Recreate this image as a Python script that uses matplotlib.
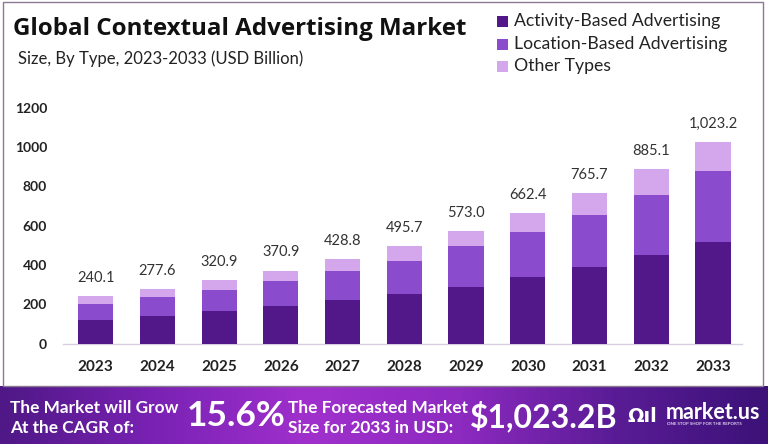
import matplotlib
matplotlib.use("Agg")
import matplotlib.pyplot as plt
import numpy as np
from matplotlib.colors import LinearSegmentedColormap
from matplotlib.patches import Rectangle

years = ["2023", "2024", "2025", "2026", "2027", "2028", "2029", "2030", "2031", "2032", "2033"]
activity = [118, 139, 164, 189, 220, 254, 289, 338, 389, 448, 518]
location = [85, 98, 110, 131, 147, 167, 205, 229, 266, 308, 357]
other = [37.1, 40.6, 46.9, 50.9, 61.8, 74.7, 79.0, 95.4, 110.7, 129.1, 148.2]
totals = [240.1, 277.6, 320.9, 370.9, 428.8, 495.7, 573.0, 662.4, 765.7, 885.1, 1023.2]
total_labels = ["240.1", "277.6", "320.9", "370.9", "428.8", "495.7", "573.0", "662.4", "765.7", "885.1", "1,023.2"]
series_names = ["Activity-Based Advertising", "Location-Based Advertising", "Other Types"]
colors = ["#521889", "#8a4ccc", "#d4a6ec"]
yticks = [0, 200, 400, 600, 800, 1000, 1200]

W, H = 768, 444
fig = plt.figure(figsize=(W / 100, H / 100), dpi=100)
fig.patch.set_facecolor("white")

def fx(px):
    return px / W

def fy(py):
    return 1 - py / H

frame = Rectangle((fx(3), fy(386)), fx(760), (386 - 2) / H, transform=fig.transFigure,
                  fill=False, edgecolor="#8a7a90", linewidth=1.0, zorder=0)
fig.patches.append(frame)

ax_left, ax_right = 63, 742
ax_bottom, ax_top = 343.5, 96
ax = fig.add_axes([fx(ax_left), fy(ax_bottom), fx(ax_right - ax_left), (ax_bottom - ax_top) / H])
ppu = (343.5 - 107.5) / 1200.0
ymax = (ax_bottom - ax_top) / ppu
ax.set_ylim(0, ymax)
ax.set_xlim(-0.53, 10.47)

x = np.arange(len(years))
bw = 0.57
ax.bar(x, activity, width=bw, color=colors[0], label=series_names[0], zorder=3)
ax.bar(x, location, width=bw, bottom=activity, color=colors[1], label=series_names[1], zorder=3)
bottom2 = np.array(activity) + np.array(location)
ax.bar(x, other, width=bw, bottom=bottom2, color=colors[2], label=series_names[2], zorder=3)

for xi, t, lab in zip(x, totals, total_labels):
    ax.annotate(lab, (xi, t), xytext=(0, 8), textcoords="offset points",
                ha="center", va="bottom", fontsize=10.5, color="#333333", family="Lato")

for s in ["top", "right", "left"]:
    ax.spines[s].set_visible(False)
ax.spines["bottom"].set_color("#d8d0e0")
ax.spines["bottom"].set_linewidth(1.0)
ax.set_yticks(yticks)
ax.set_yticklabels([str(v) for v in yticks], fontsize=10, fontweight="bold", color="#222222", family="Lato")
ax.tick_params(axis="y", length=0, pad=11.5)
ax.set_xticks(x)
ax.set_xticklabels(years, fontsize=11, fontweight="bold", color="#222222", family="Lato")
ax.tick_params(axis="x", length=0, pad=12)
ax.set_facecolor("none")

fig.text(fx(13), fy(29), "Global Contextual Advertising Market", fontsize=17.4, fontweight="bold",
         color="#111111", va="center", ha="left", family="Open Sans")
fig.text(fx(18), fy(59), "Size, By Type, 2023-2033 (USD Billion)", fontsize=12, color="#222222",
         va="center", ha="left", family="Lato")

ly = [21, 44, 66]
for name, c, yy in zip(series_names, colors, ly):
    fig.patches.append(Rectangle((fx(497), fy(yy + 6)), fx(11), 11 / H, transform=fig.transFigure,
                                 facecolor=c, edgecolor="none"))
    fig.text(fx(514), fy(yy), name, fontsize=12.7, color="#222222", va="center", ha="left", family="Lato")

bax = fig.add_axes([0, 0, 1, (H - 386) / H])
cmap = LinearSegmentedColormap.from_list("ban", ["#4f1886", "#7a22b4", "#a030cc", "#8d2ac0", "#5a1c96", "#3c1278"])
grad = np.linspace(0, 1, 400).reshape(1, -1)
bax.imshow(grad, aspect="auto", cmap=cmap, extent=[0, 1, 0, 1])
bax.set_xlim(0, 1)
bax.set_ylim(0, 1)
bax.axis("off")

bx = lambda px: px / W
by = lambda py: (H - py) / (H - 386)
bax.text(bx(10), by(408), "The Market will Grow", fontsize=12.4, fontweight="bold", color="white",
         va="center", ha="left", family="Lato")
bax.text(bx(10), by(428), "At the CAGR of:", fontsize=12.4, fontweight="bold", color="white",
         va="center", ha="left", family="Lato")
bax.text(bx(187), by(416), "15.6%", fontsize=25.5, fontweight="bold", color="white",
         va="center", ha="left", family="Lato")
bax.text(bx(288), by(408), "The Forecasted Market", fontsize=12.4, fontweight="bold", color="white",
         va="center", ha="left", family="Lato")
bax.text(bx(288), by(428), "Size for 2033 in USD:", fontsize=12.4, fontweight="bold", color="white",
         va="center", ha="left", family="Lato")
bax.text(bx(470), by(416), "$1,023.2B", fontsize=23, fontweight="bold", color="white",
         va="center", ha="left", family="Lato")
bax.text(bx(627), by(416), "\u03a9ıl", fontsize=14, fontweight="bold", color="white",
         va="center", ha="left", family="DejaVu Sans")
bax.text(bx(666), by(412), "market.us", fontsize=15.5, fontweight="bold", color="white",
         va="center", ha="left", family="Lato")
bax.text(bx(667), by(424), "ONE STOP SHOP FOR THE REPORTS", fontsize=3.2, fontweight="bold", color="#e0d0f0",
         va="center", ha="left", family="Lato")

fig.savefig("out.png", dpi=100)
